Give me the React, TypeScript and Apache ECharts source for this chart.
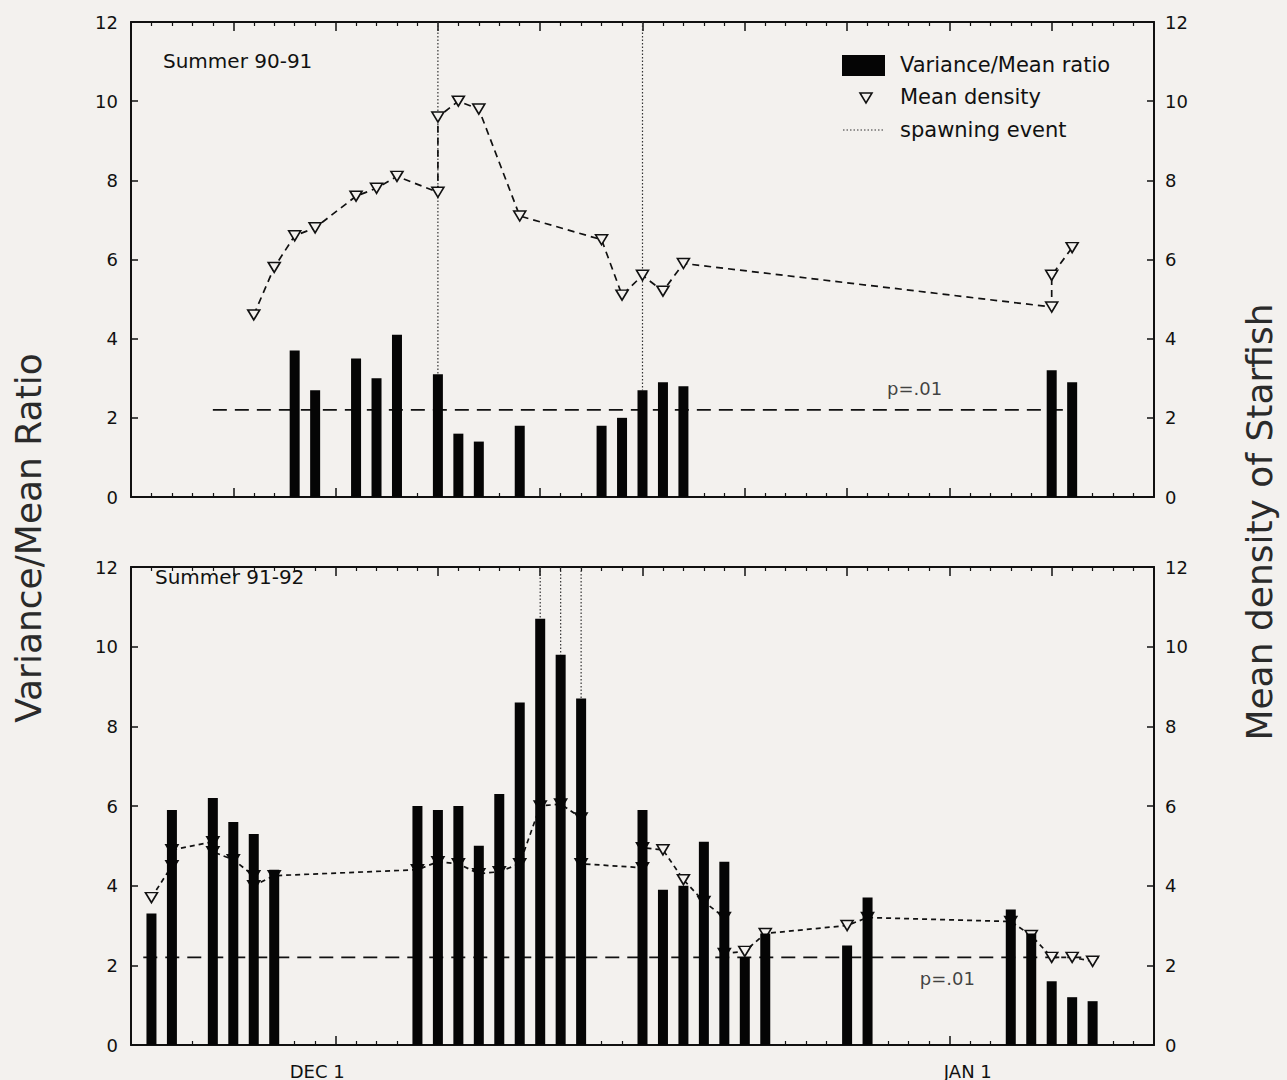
import React, { useEffect, useRef } from "react";
import * as echarts from "echarts";

const FONT = "DejaVu Sans";
const INK = "#111111";
const BG = "#f3f1ee";

// x axis: day index (0 … 50); DEC 1 ≈ day 9, JAN 1 ≈ day 41
const DAY_MIN = 0;
const DAY_MAX = 50;
const dateLabels = ["DEC 1", "JAN 1"];
const dateLabelDays = [9.1, 40.9];

const threshold = 2.2;
const thresholdLabel = "p=.01";

// ---- Summer 90-91 ----
const topBarDays = [8, 9, 11, 12, 13, 15, 16, 17, 19, 23, 24, 25, 26, 27, 45, 46];
const topBarValues = [3.7, 2.7, 3.5, 3.0, 4.1, 3.1, 1.6, 1.4, 1.8, 1.8, 2.0, 2.7, 2.9, 2.8, 3.2, 2.9];
const topDensityDays = [6, 7, 8, 9, 11, 12, 13, 15, 15, 16, 17, 19, 23, 24, 25, 26, 27, 45, 45, 46];
const topDensityValues = [4.6, 5.8, 6.6, 6.8, 7.6, 7.8, 8.1, 7.7, 9.6, 10.0, 9.8, 7.1, 6.5, 5.1, 5.6, 5.2, 5.9, 4.8, 5.6, 6.3];
const topSpawnDays = [15, 25];
const topThresholdDays = [4, 45.7];
const topLabelPos = [38.3, 2.75];

// ---- Summer 91-92 ----
const bottomBarDays = [1, 2, 4, 5, 6, 7, 14, 15, 16, 17, 18, 19, 20, 21, 22, 25, 26, 27, 28, 29, 30, 31, 35, 36, 43, 44, 45, 46, 47];
const bottomBarValues = [3.3, 5.9, 6.2, 5.6, 5.3, 4.4, 6.0, 5.9, 6.0, 5.0, 6.3, 8.6, 10.7, 9.8, 8.7, 5.9, 3.9, 4.0, 5.1, 4.6, 2.2, 2.8, 2.5, 3.7, 3.4, 2.8, 1.6, 1.2, 1.1];
const bottomDensityDays = [1, 2, 2, 4, 4, 5, 6, 6, 7, 14, 15, 16, 17, 18, 19, 20, 21, 22, 22, 25, 25, 26, 27, 28, 29, 29, 30, 31, 35, 36, 43, 44, 45, 46, 47];
const bottomDensityValues = [3.7, 4.5, 4.9, 5.1, 4.85, 4.65, 4.25, 4.0, 4.25, 4.4, 4.6, 4.55, 4.3, 4.35, 4.55, 6.0, 6.05, 5.7, 4.55, 4.45, 4.95, 4.9, 4.15, 3.6, 3.2, 2.3, 2.35, 2.8, 3.0, 3.2, 3.1, 2.75, 2.2, 2.2, 2.1];
const bottomSpawnDays = [20, 21, 22];
const bottomThresholdDays = [0.6, 47.3];
const bottomLabelPos = [39.9, 1.68];

const Y_MAX = 12;

function zip(xs: number[], ys: number[]) {
  return xs.map((x, i) => [x, ys[i]]);
}

function xAxisDef(gridIndex: number, position: "top" | "bottom", withLabels: boolean) {
  return {
    type: "value",
    gridIndex,
    position,
    min: DAY_MIN,
    max: DAY_MAX,
    interval: 5,
    axisLine: { show: true, onZero: false, lineStyle: { color: INK, width: 2 } },
    axisTick: { show: true, inside: true, length: 9, lineStyle: { color: INK, width: 1.5 } },
    minorTick: { show: true, splitNumber: 5, length: 4, lineStyle: { color: INK, width: 1.2 } },
    splitLine: { show: false },
    minorSplitLine: { show: false },
    axisLabel: withLabels
      ? {
          show: true,
          customValues: dateLabelDays,
          margin: 17,
          fontSize: 18,
          color: INK,
          fontFamily: FONT,
          formatter: (v: number) => {
            const i = dateLabelDays.findIndex((d) => Math.abs(d - v) < 0.01);
            return i >= 0 ? dateLabels[i] : "";
          },
        }
      : { show: false },
  };
}

function yAxisDef(gridIndex: number, position: "left" | "right") {
  return {
    type: "value",
    gridIndex,
    position,
    min: 0,
    max: Y_MAX,
    interval: 2,
    axisLine: { show: true, onZero: false, lineStyle: { color: INK, width: 2 } },
    axisTick: { show: true, inside: true, length: 7, lineStyle: { color: INK, width: 1.5 } },
    splitLine: { show: false },
    axisLabel: {
      margin: position === "left" ? 13 : 11,
      fontSize: 18,
      color: INK,
      fontFamily: FONT,
    },
  };
}

function panelSeries(
  xi: number,
  yl: number,
  yr: number,
  barDays: number[],
  barValues: number[],
  densDays: number[],
  densValues: number[],
  spawnDays: number[],
  thrDays: number[],
  labelPos: number[],
  densDash: number[]
) {
  const list: any[] = [];
  list.push({
    type: "line",
    xAxisIndex: xi,
    yAxisIndex: yl,
    data: thrDays.map((d) => [d, threshold]),
    symbol: "none",
    lineStyle: { color: INK, width: 1.8, type: [14, 8] },
    z: 1,
    silent: true,
  });
  spawnDays.forEach((d) => {
    const v = barValues[barDays.indexOf(d)];
    list.push({
      type: "line",
      xAxisIndex: xi,
      yAxisIndex: yl,
      data: [
        [d, Y_MAX],
        [d, v],
      ],
      symbol: "none",
      lineStyle: { color: "#333", width: 1.2, type: [1.5, 2] },
      z: 1,
      silent: true,
    });
  });
  list.push({
    type: "line",
    name: "Mean density",
    xAxisIndex: xi,
    yAxisIndex: yr,
    data: zip(densDays, densValues),
    symbol: "triangle",
    symbolRotate: 180,
    symbolSize: [12, 10],
    showAllSymbol: true,
    itemStyle: { color: BG, borderColor: INK, borderWidth: 1.6 },
    lineStyle: { color: INK, width: 1.7, type: densDash },
    z: 2,
    silent: true,
  });
  list.push({
    type: "bar",
    name: "Variance/Mean ratio",
    xAxisIndex: xi,
    yAxisIndex: yl,
    data: zip(barDays, barValues),
    barWidth: 10,
    itemStyle: { color: "#050505" },
    z: 3,
    silent: true,
  });
  list.push({
    type: "scatter",
    xAxisIndex: xi,
    yAxisIndex: yl,
    data: [labelPos],
    symbol: "circle",
    symbolSize: 1,
    itemStyle: { color: "rgba(0,0,0,0)" },
    label: {
      show: true,
      position: "inside",
      formatter: thresholdLabel,
      fontSize: 18,
      color: INK,
      fontFamily: FONT,
    },
    z: 4,
    silent: true,
  });
  return list;
}

const textStyle = { fontFamily: FONT, fill: INK };

const option: any = {
  animation: false,
  backgroundColor: BG,
  textStyle: { fontFamily: FONT },
  grid: [
    { left: 131, top: 22, width: 1023, height: 475 },
    { left: 131, top: 567, width: 1023, height: 480 },
  ],
  xAxis: [
    xAxisDef(0, "bottom", false),
    xAxisDef(0, "top", false),
    xAxisDef(1, "bottom", true),
    xAxisDef(1, "top", false),
  ],
  yAxis: [yAxisDef(0, "left"), yAxisDef(0, "right"), yAxisDef(1, "left"), yAxisDef(1, "right")],
  series: [
    ...panelSeries(0, 0, 1, topBarDays, topBarValues, topDensityDays, topDensityValues, topSpawnDays, topThresholdDays, topLabelPos, [7, 5]),
    ...panelSeries(2, 2, 3, bottomBarDays, bottomBarValues, bottomDensityDays, bottomDensityValues, bottomSpawnDays, bottomThresholdDays, bottomLabelPos, [5, 4]),
  ],
  graphic: [
    { type: "text", left: 163, top: 51, style: { ...textStyle, text: "Summer 90-91", fontSize: 20 } },
    { type: "text", left: 155, top: 567, style: { ...textStyle, text: "Summer 91-92", fontSize: 20 } },
    // legend
    { type: "rect", shape: { x: 842, y: 55, width: 43, height: 21 }, style: { fill: "#050505" } },
    { type: "text", x: 900, y: 65, style: { ...textStyle, text: "Variance/Mean ratio", fontSize: 21, verticalAlign: "middle" } },
    {
      type: "polygon",
      shape: { points: [[860, 93], [872, 93], [866, 103]] },
      style: { fill: BG, stroke: INK, lineWidth: 1.6 },
    },
    { type: "text", x: 900, y: 97, style: { ...textStyle, text: "Mean density", fontSize: 21, verticalAlign: "middle" } },
    {
      type: "line",
      shape: { x1: 843, y1: 130, x2: 885, y2: 130 },
      style: { stroke: "#333", lineWidth: 1.2, lineDash: [1.5, 2] },
    },
    { type: "text", x: 900, y: 130, style: { ...textStyle, text: "spawning event", fontSize: 21, verticalAlign: "middle" } },
    // axis titles
    {
      type: "text",
      x: 28,
      y: 538,
      rotation: Math.PI / 2,
      style: { ...textStyle, text: "Variance/Mean Ratio", fontSize: 36, align: "center", verticalAlign: "middle", fill: "#2a2a2a" },
    },
    {
      type: "text",
      x: 1259,
      y: 522,
      rotation: Math.PI / 2,
      style: { ...textStyle, text: "Mean density of Starfish", fontSize: 36, align: "center", verticalAlign: "middle", fill: "#2a2a2a" },
    },
  ],
};

export default function App() {
  const ref = useRef<HTMLDivElement>(null);
  useEffect(() => {
    if (!ref.current) return;
    const chart = echarts.init(ref.current, null, { renderer: "svg" });
    chart.setOption(option);
    return () => chart.dispose();
  }, []);
  return (
    <div
      ref={ref}
      style={{ position: "absolute", left: 0, top: 0, width: 1287, height: 1080, background: BG }}
    />
  );
}
